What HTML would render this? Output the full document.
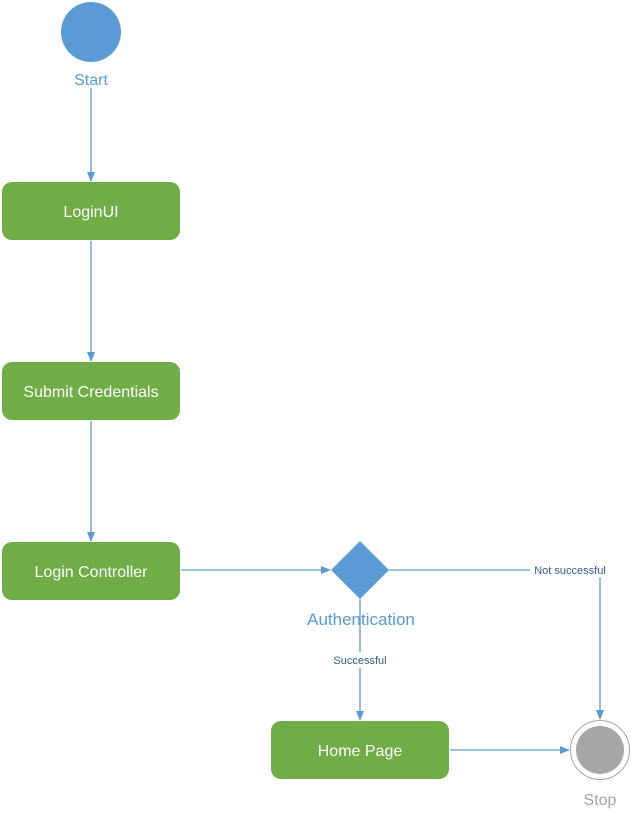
<!DOCTYPE html>
<html><head><style>body{margin:0;background:#fff}</style></head><body>
<svg width="631" height="821" xmlns="http://www.w3.org/2000/svg" font-family="Liberation Sans, sans-serif">
<defs><marker id="a" markerWidth="10" markerHeight="10" refX="9" refY="5" orient="auto" markerUnits="userSpaceOnUse"><path d="M0,1 L10,5 L0,9 z" fill="#5b9bd5"/></marker></defs>
<g stroke="#5b9bd5" stroke-width="1.3" fill="none">
<line x1="91" y1="88" x2="91" y2="181" marker-end="url(#a)"/>
<line x1="91" y1="241" x2="91" y2="361" marker-end="url(#a)"/>
<line x1="91" y1="421" x2="91" y2="541" marker-end="url(#a)"/>
<line x1="181" y1="570" x2="330" y2="570" marker-end="url(#a)"/>
<path d="M389,570 H600 V719" marker-end="url(#a)"/>
<line x1="360" y1="599" x2="360" y2="720" marker-end="url(#a)"/>
<line x1="450" y1="750" x2="569" y2="750" marker-end="url(#a)"/>
</g>
<circle cx="91" cy="32" r="30" fill="#5b9bd5"/>
<text x="91" y="85" font-size="16" fill="#5b9bd5" text-anchor="middle">Start</text>
<g fill="#70ad47">
<rect x="2" y="182" width="178" height="58" rx="10"/>
<rect x="2" y="362" width="178" height="58" rx="10"/>
<rect x="2" y="542" width="178" height="58" rx="10"/>
<rect x="271" y="721" width="178" height="58" rx="10"/>
</g>
<g fill="#fff" font-size="16" text-anchor="middle">
<text x="91" y="217">LoginUI</text>
<text x="91" y="397">Submit Credentials</text>
<text x="91" y="577">Login Controller</text>
<text x="360" y="756">Home Page</text>
</g>
<polygon points="360,541 389,570 360,599 331,570" fill="#5b9bd5"/>
<text x="361" y="625" font-size="17" fill="#5b9bd5" text-anchor="middle">Authentication</text>
<rect x="330" y="652" width="60" height="16" fill="#fff"/>
<text x="360" y="664" font-size="11" fill="#2e5e8e" text-anchor="middle">Successful</text>
<rect x="530" y="563" width="80" height="14" fill="#fff"/>
<text x="570" y="574" font-size="11" fill="#2e5e8e" text-anchor="middle">Not successful</text>
<circle cx="600" cy="750" r="29.5" fill="#fff" stroke="#a6a6a6" stroke-width="1"/>
<circle cx="600" cy="750" r="24" fill="#a6a6a6"/>
<text x="600" y="805" font-size="16" fill="#a6a6a6" text-anchor="middle">Stop</text>
</svg>
</body></html>
